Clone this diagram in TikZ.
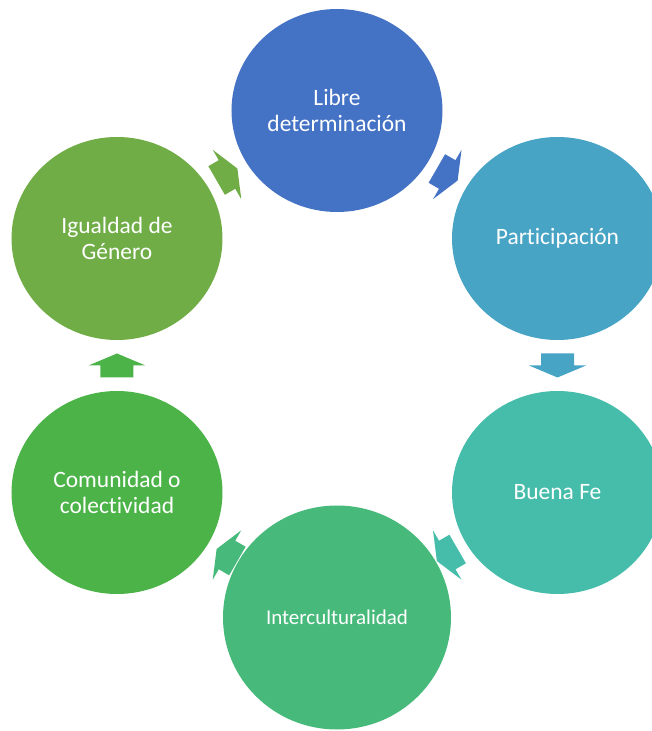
\documentclass[tikz,border=0pt]{standalone}
\usepackage{fontspec}
\setmainfont{Carlito}[Ligatures=NoCommon]
\usetikzlibrary{calc,shapes.geometric}

\definecolor{libreblue}{RGB}{68,114,196}
\definecolor{particblue}{RGB}{72,164,197}
\definecolor{buenateal}{RGB}{69,189,170}
\definecolor{intergreen}{RGB}{71,186,123}
\definecolor{comungreen}{RGB}{75,179,72}
\definecolor{igualgreen}{RGB}{112,173,71}

\begin{document}
\begin{tikzpicture}[x=0.75pt, y=0.75pt,
    bubble/.style={ellipse, inner sep=0pt, minimum width=158.25pt, minimum height=152.25pt,
      text=white, align=center, font=\fontsize{17.6}{20}\selectfont}]
  \useasboundingbox (-337,-365.5) rectangle (315,365.5);

  \node (libre)  at (0,255)        [bubble, fill=libreblue]  {Libre\\determinación};
  \node (partic) at (220.5,127)    [bubble, fill=particblue] {Participación};
  \node (buena)  at (220.5,-127)   [bubble, fill=buenateal]  {Buena Fe};
  \node (inter)  at (0,-252)       [bubble, fill=intergreen, minimum width=171pt, minimum height=168pt,
                                    font=\fontsize{15.75}{19}\selectfont] {Interculturalidad};
  \node (comun)  at (-220,-127)    [bubble, fill=comungreen] {Comunidad o\\colectividad};
  \node (igual)  at (-220,127)     [bubble, fill=igualgreen] {Igualdad de\\Género};

  % block arrows halfway between neighbours
  \foreach \from/\to/\dir/\col in {libre/partic/-30/libreblue, partic/buena/-90/particblue,
      buena/inter/-150/buenateal, inter/comun/150/intergreen,
      comun/igual/90/comungreen, igual/libre/30/igualgreen}
    \fill[\col, shift={($(\from)!0.5!(\to)$)}, rotate=\dir]
      (-12,-16.5) -- (0,-16.5) -- (0,-28.5) -- (12,0) -- (0,28.5) -- (0,16.5) -- (-12,16.5) -- cycle;
\end{tikzpicture}
\end{document}
